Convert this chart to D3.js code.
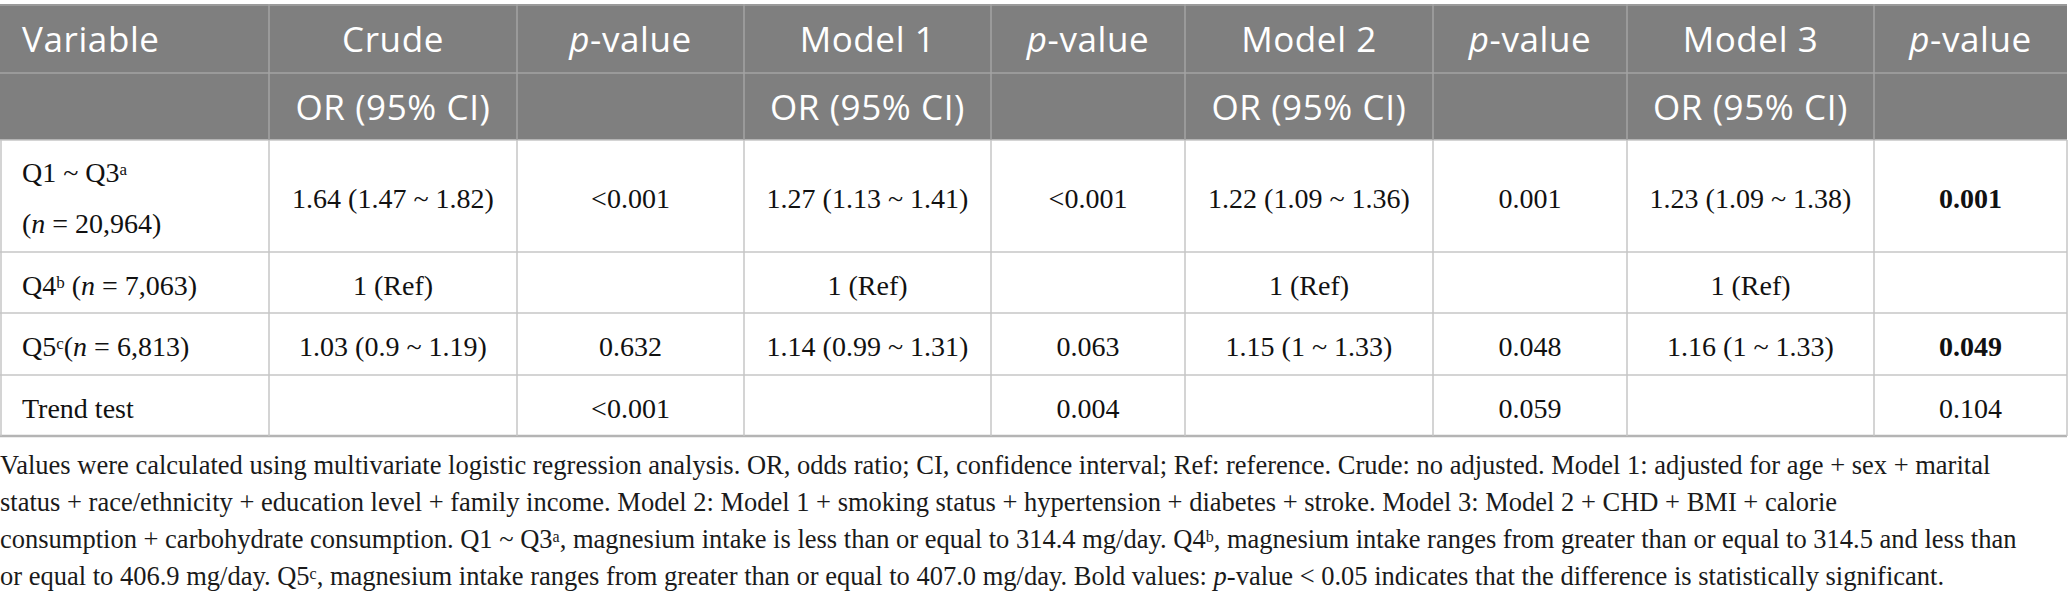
<!DOCTYPE html>
<html>
<head>
<meta charset="utf-8">
<script src="https://cdn.jsdelivr.net/npm/d3@7"></script>
<style>
  html, body { margin: 0; padding: 0; background: #fff; }
</style>
</head>
<body>
<div id="chart"></div>
<script>

var width = 2068;
var height = 601;

// table content
var headers = ['Variable', 'Crude', 'p-value', 'Model 1', 'p-value', 'Model 2', 'p-value', 'Model 3', 'p-value'];
var subHeaders = ['', 'OR (95% CI)', '', 'OR (95% CI)', '', 'OR (95% CI)', '', 'OR (95% CI)', ''];

// variable labels, pieces: [text, kind]  kind: '' normal, 'i' italic, 's' superscript
var varLabels = [
	[[['Q1 ~ Q3', ''], ['a', 's']], [['(', ''], ['n', 'i'], [' = 20,964)', '']]],
	[[['Q4', ''], ['b', 's'], [' (', ''], ['n', 'i'], [' = 7,063)', '']]],
	[[['Q5', ''], ['c', 's'], ['(', ''], ['n', 'i'], [' = 6,813)', '']]],
	[[['Trend test', '']]]
];

var crudeOR  = ['1.64 (1.47 ~ 1.82)', '1 (Ref)', '1.03 (0.9 ~ 1.19)', ''];
var crudeP   = ['<0.001', '', '0.632', '<0.001'];
var model1OR = ['1.27 (1.13 ~ 1.41)', '1 (Ref)', '1.14 (0.99 ~ 1.31)', ''];
var model1P  = ['<0.001', '', '0.063', '0.004'];
var model2OR = ['1.22 (1.09 ~ 1.36)', '1 (Ref)', '1.15 (1 ~ 1.33)', ''];
var model2P  = ['0.001', '', '0.048', '0.059'];
var model3OR = ['1.23 (1.09 ~ 1.38)', '1 (Ref)', '1.16 (1 ~ 1.33)', ''];
var model3P  = ['0.001', '', '0.049', '0.104'];
var model3Bold = [true, false, true, false];

var footnote = [
	[['Values were calculated using multivariate logistic regression analysis. OR, odds ratio; CI, confidence interval; Ref: reference. Crude: no adjusted. Model 1: adjusted for age + sex + marital', '']],
	[['status + race/ethnicity + education level + family income. Model 2: Model 1 + smoking status + hypertension + diabetes + stroke. Model 3: Model 2 + CHD + BMI + calorie', '']],
	[['consumption + carbohydrate consumption. Q1 ~ Q3', ''], ['a', 's'], [', magnesium intake is less than or equal to 314.4 mg/day. Q4', ''], ['b', 's'], [', magnesium intake ranges from greater than or equal to 314.5 and less than', '']],
	[['or equal to 406.9 mg/day. Q5', ''], ['c', 's'], [', magnesium intake ranges from greater than or equal to 407.0 mg/day. Bold values: ', ''], ['p', 'i'], ['-value < 0.05 indicates that the difference is statistically significant.', '']]
];

// layout
var colEdges = [0, 269, 517, 744, 991, 1185, 1433, 1627, 1874, 2067];
var rowEdges = [4, 72, 140, 252, 313, 375, 436];
var padLeft = 22;
var serif = 'Liberation Serif, Times New Roman, serif';
var sans = 'Open Sans, Noto Sans, sans-serif';

var columns = [null, crudeOR, crudeP, model1OR, model1P, model2OR, model2P, model3OR, model3P];

var svg = d3.select('#chart')
	.append('svg')
	.attr('width', width)
	.attr('height', height)
	.style('display', 'block')
	.style('background-color', '#fff');

var x = d3.scaleLinear()
	.domain(d3.range(colEdges.length))
	.range(colEdges);

var y = d3.scaleLinear()
	.domain(d3.range(rowEdges.length))
	.range(rowEdges);

var nCols = headers.length;

// header block
svg.append('rect')
	.attr('x', x(0))
	.attr('y', y(0))
	.attr('width', x(nCols) - x(0))
	.attr('height', y(2) - y(0))
	.attr('fill', '#7f7f7f');

// body grid lines
var grid = svg.append('g').attr('class', 'grid');

grid.selectAll('.hline')
	.data(d3.range(2, rowEdges.length))
	.enter()
	.append('line')
	.attr('x1', x(0))
	.attr('x2', x(nCols))
	.attr('y1', function(d) { return y(d); })
	.attr('y2', function(d) { return y(d); })
	.attr('stroke', function(d) { return d == rowEdges.length - 1 ? '#b4b4b4' : '#c6c6c6'; })
	.attr('stroke-width', function(d) { return d == rowEdges.length - 1 ? 2.5 : 1.5; });

grid.selectAll('.vline')
	.data(d3.range(0, nCols + 1))
	.enter()
	.append('line')
	.attr('x1', function(d) { return Math.min(Math.max(x(d), 1), width - 1); })
	.attr('x2', function(d) { return Math.min(Math.max(x(d), 1), width - 1); })
	.attr('y1', y(2))
	.attr('y2', y(rowEdges.length - 1))
	.attr('stroke', '#c6c6c6')
	.attr('stroke-width', 1.5);

// header lines (lighter on grey)
var hgrid = svg.append('g').attr('class', 'hgrid');

hgrid.selectAll('line.h')
	.data([0, 1])
	.enter()
	.append('line')
	.attr('x1', x(0))
	.attr('x2', x(nCols))
	.attr('y1', function(d) { return y(d) + 1; })
	.attr('y2', function(d) { return y(d) + 1; })
	.attr('stroke', '#a3a3a3')
	.attr('stroke-width', 1.5);

hgrid.selectAll('line.v')
	.data(d3.range(1, nCols))
	.enter()
	.append('line')
	.attr('x1', function(d) { return x(d); })
	.attr('x2', function(d) { return x(d); })
	.attr('y1', y(0))
	.attr('y2', y(2))
	.attr('stroke', '#a3a3a3')
	.attr('stroke-width', 1.5);

// rich text helper
function addPieces(sel, pieces, size) {
	pieces.forEach(function(p) {
		var t = sel.append('tspan').text(p[0]);
		if (p[1] == 'i') t.style('font-style', 'italic');
		if (p[1] == 's') {
			t.attr('baseline-shift', '40%').style('font-size', Math.round(size * 0.6) + 'px');
		}
	});
}

// header texts
function headerText(labels, baseline) {
	svg.append('g').selectAll('text')
		.data(labels)
		.enter()
		.append('text')
		.attr('x', function(d, i) { return i == 0 ? x(0) + padLeft : (x(i) + x(i + 1)) / 2; })
		.attr('y', baseline)
		.attr('text-anchor', function(d, i) { return i == 0 ? 'start' : 'middle'; })
		.style('fill', '#fff')
		.style('font-family', sans)
		.style('font-size', '35px')
		.style('letter-spacing', '0.6px')
		.each(function(d) {
			var s = d3.select(this);
			if (d.indexOf('p-') == 0) {
				s.append('tspan').text('p').style('font-style', 'italic');
				s.append('tspan').text(d.slice(1));
			} else {
				s.text(d);
			}
		});
}
headerText(headers, 52);
headerText(subHeaders, 120);

// body values
var body = svg.append('g').attr('class', 'body');
var bodySize = 28;

for (var c = 1; c < nCols; c++) {
	body.append('g').selectAll('text')
		.data(columns[c])
		.enter()
		.append('text')
		.attr('x', (x(c) + x(c + 1)) / 2)
		.attr('y', function(d, r) { return (y(r + 2) + y(r + 3)) / 2 + 12; })
		.attr('text-anchor', 'middle')
		.style('fill', '#111')
		.style('font-family', serif)
		.style('font-size', bodySize + 'px')
		.style('font-weight', function(d, r) { return c == 8 && model3Bold[r] ? 700 : 400; })
		.text(function(d) { return d; });
}

// variable column
varLabels.forEach(function(lines, r) {
	var mid = (y(r + 2) + y(r + 3)) / 2;
	lines.forEach(function(pieces, k) {
		var base = lines.length == 1 ? mid + 12 : mid - 14 + k * 51;
		var t = body.append('text')
			.attr('x', x(0) + padLeft)
			.attr('y', base)
			.style('fill', '#111')
			.style('font-family', serif)
			.style('font-size', bodySize + 'px');
		addPieces(t, pieces, bodySize);
	});
});

// footnote
var noteSize = 26.5;
var note = svg.append('g').attr('class', 'note');
footnote.forEach(function(pieces, k) {
	var t = note.append('text')
		.attr('x', 0)
		.attr('y', 474 + k * 37)
		.style('fill', '#1a1a1a')
		.style('font-family', serif)
		.style('font-size', noteSize + 'px');
	addPieces(t, pieces, noteSize);
});

</script>
</body>
</html>
